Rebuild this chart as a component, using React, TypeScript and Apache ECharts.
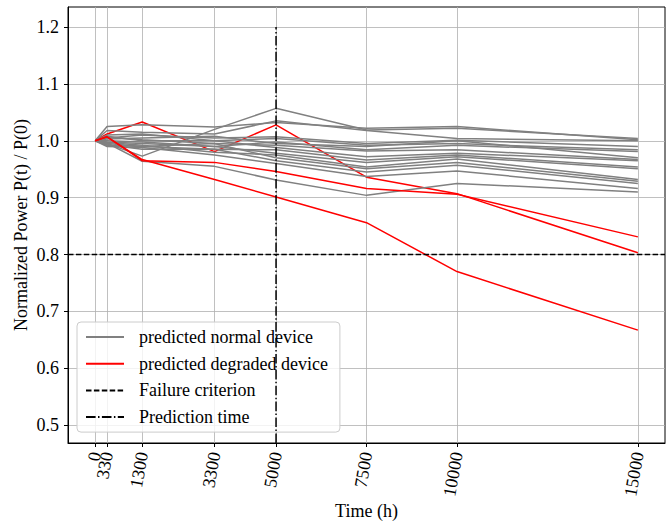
import React, { useEffect, useRef } from "react";
import * as echarts from "echarts";

const timePoints = [0, 330, 1300, 3300, 5000, 7500, 10000, 15000];
const xLabelValuesMain = [330, 1300, 3300, 5000, 7500, 10000, 15000];
const xLabelValuesFirst = [0];
const yTickValues = [0.5, 0.6, 0.7, 0.8, 0.9, 1.0, 1.1, 1.2];

const normalDevices: number[][] = [
  [1, 0.995, 0.973, 1.02, 1.057, 1.019, 1.022, 1.004],
  [1, 1.025, 1.028, 1.024, 1.032, 1.022, 1.025, 1.002],
  [1, 1.018, 1.015, 1.012, 1.035, 1.018, 1.004, 1.0],
  [1, 1.005, 1.01, 1.005, 1.007, 0.995, 1.001, 0.99],
  [1, 1.008, 1.0, 1.0, 1.004, 0.992, 0.995, 0.984],
  [1, 0.998, 0.995, 0.99, 0.998, 0.984, 0.992, 0.981],
  [1, 1.003, 1.005, 1.008, 0.995, 0.99, 1.0, 0.97],
  [1, 0.995, 0.99, 0.995, 0.992, 0.982, 0.984, 0.967],
  [1, 1.01, 1.012, 1.0, 0.988, 0.972, 0.978, 0.965],
  [1, 0.993, 0.985, 0.985, 0.984, 0.966, 0.975, 0.954],
  [1, 1.0, 0.998, 0.99, 0.978, 0.962, 0.972, 0.951],
  [1, 0.997, 0.992, 0.98, 0.975, 0.954, 0.968, 0.932],
  [1, 1.006, 1.002, 0.995, 0.97, 0.951, 0.962, 0.929],
  [1, 0.992, 0.99, 0.985, 0.965, 0.945, 0.957, 0.925],
  [1, 0.99, 0.988, 0.975, 0.96, 0.937, 0.947, 0.916],
  [1, 0.996, 0.964, 0.955, 0.931, 0.904, 0.925, 0.91],
];

const degradedEarly: number[] = [1, 1.012, 1.033, 0.981, 1.028, 0.936, 0.907, 0.803];
const degradedLate: number[][] = [
  [1, 1.007, 0.965, 0.962, 0.946, 0.916, 0.906, 0.831],
  [1, 1.007, 0.967, 0.932, 0.901, 0.856, 0.77, 0.667],
];

const failureCriterion = 0.8;
const predictionTime = 5000;
const xRange = [-750, 15750];
const yRange = [0.4686, 1.2352];

const NORMAL = "predicted normal device";
const DEGRADED = "predicted degraded device";
const FAILURE = "Failure criterion";
const PREDICTION = "Prediction time";

const FONT = "'Liberation Serif', 'Times New Roman', serif";

function toPoints(vals: number[]) {
  return timePoints.map((t, i) => [t, vals[i]]);
}

function lineSeries(name: string, vals: number[], color: string) {
  return {
    type: "line",
    name,
    data: toPoints(vals),
    symbol: "none",
    showSymbol: false,
    lineStyle: { color, width: 1.5 },
    itemStyle: { color },
    emphasis: { disabled: true },
    z: 3,
  };
}

const labelStyle = {
  rotate: 80,
  margin: 9,
  hideOverlap: false,
  fontFamily: FONT,
  fontSize: 18,
  color: "#000",
  formatter: (v: number) => String(v),
};

export default function App() {
  const ref = useRef<HTMLDivElement>(null);
  useEffect(() => {
    if (!ref.current) return;
    const chart = echarts.init(ref.current, undefined, { renderer: "svg" });
    const series: any[] = [];
    series.push(lineSeries(DEGRADED, degradedEarly, "#ff0000"));
    normalDevices.forEach((v) => series.push(lineSeries(NORMAL, v, "#808080")));
    degradedLate.forEach((v) => series.push(lineSeries(DEGRADED, v, "#ff0000")));
    series.push({
      type: "line",
      name: FAILURE,
      data: [
        [xRange[0], failureCriterion],
        [xRange[1], failureCriterion],
      ],
      symbol: "none",
      lineStyle: { color: "#000", width: 1.5, type: [5.5, 2.4] },
      itemStyle: { color: "#000" },
      z: 4,
    });
    series.push({
      type: "line",
      name: PREDICTION,
      data: [
        [predictionTime, yRange[0]],
        [predictionTime, 1.2],
      ],
      symbol: "none",
      lineStyle: { color: "#000", width: 1.5, type: [9.6, 2.4, 1.5, 2.4] },
      itemStyle: { color: "#000" },
      z: 4,
    });

    const option: any = {
      animation: false,
      backgroundColor: "#fff",
      textStyle: { fontFamily: FONT },
      grid: {
        left: 68,
        right: 1,
        top: 7,
        bottom: 79,
        containLabel: false,
        outerBoundsMode: "none",
        show: true,
        borderColor: "#000",
        borderWidth: 1,
      },
      legend: {
        data: [NORMAL, DEGRADED, FAILURE, PREDICTION],
        orient: "vertical",
        left: 77,
        top: 322,
        itemWidth: 38,
        itemHeight: 14,
        itemGap: 8.7,
        padding: [6, 12, 6, 8],
        backgroundColor: "rgba(255,255,255,0.8)",
        borderColor: "#cccccc",
        borderWidth: 1,
        borderRadius: 4,
        itemStyle: { opacity: 0 },
        textStyle: {
          fontFamily: FONT,
          fontSize: 18,
          color: "#000",
          padding: [0, 0, 0, 10],
        },
        selectedMode: false,
      },
      xAxis: [
        {
          type: "value",
          min: xRange[0],
          max: xRange[1],
          position: "bottom",
          name: "Time (h)",
          nameLocation: "middle",
          nameGap: 59,
          nameMoveOverlap: false,
          nameTextStyle: { fontFamily: FONT, fontSize: 18, color: "#000" },
          axisLine: { show: true, onZero: false, lineStyle: { color: "#000", width: 1 } },
          axisTick: {
            show: true,
            length: 4,
            lineStyle: { color: "#000" },
            customValues: timePoints,
          },
          axisLabel: { ...labelStyle, customValues: xLabelValuesMain },
          splitLine: { show: true, lineStyle: { color: "#b0b0b0", width: 0.8 } },
        },
        {
          type: "value",
          min: xRange[0],
          max: xRange[1],
          position: "bottom",
          offset: 0,
          axisLine: { show: false, onZero: false },
          axisTick: { show: false, customValues: xLabelValuesFirst },
          axisLabel: { ...labelStyle, customValues: xLabelValuesFirst, showMinLabel: true },
          splitLine: { show: false },
        },
      ],
      yAxis: {
        type: "value",
        min: yRange[0],
        max: yRange[1],
        name: "Normalized Power P(t) / P(0)",
        nameLocation: "middle",
        nameGap: 38,
        nameMoveOverlap: false,
        nameTextStyle: { fontFamily: FONT, fontSize: 18, color: "#000" },
        axisLine: { show: true, onZero: false, lineStyle: { color: "#000", width: 1 } },
        axisTick: {
          show: true,
          length: 4,
          lineStyle: { color: "#000" },
          customValues: yTickValues,
        },
        axisLabel: {
          customValues: yTickValues,
          margin: 9,
          fontFamily: FONT,
          fontSize: 18,
          color: "#000",
          formatter: (v: number) => v.toFixed(1),
        },
        splitLine: { show: true, lineStyle: { color: "#b0b0b0", width: 0.8 } },
      },
      series,
    };
    chart.setOption(option);
    return () => chart.dispose();
  }, []);
  return (
    <div
      ref={ref}
      style={{ position: "fixed", left: 0, top: 0, width: 666, height: 522 }}
    />
  );
}
